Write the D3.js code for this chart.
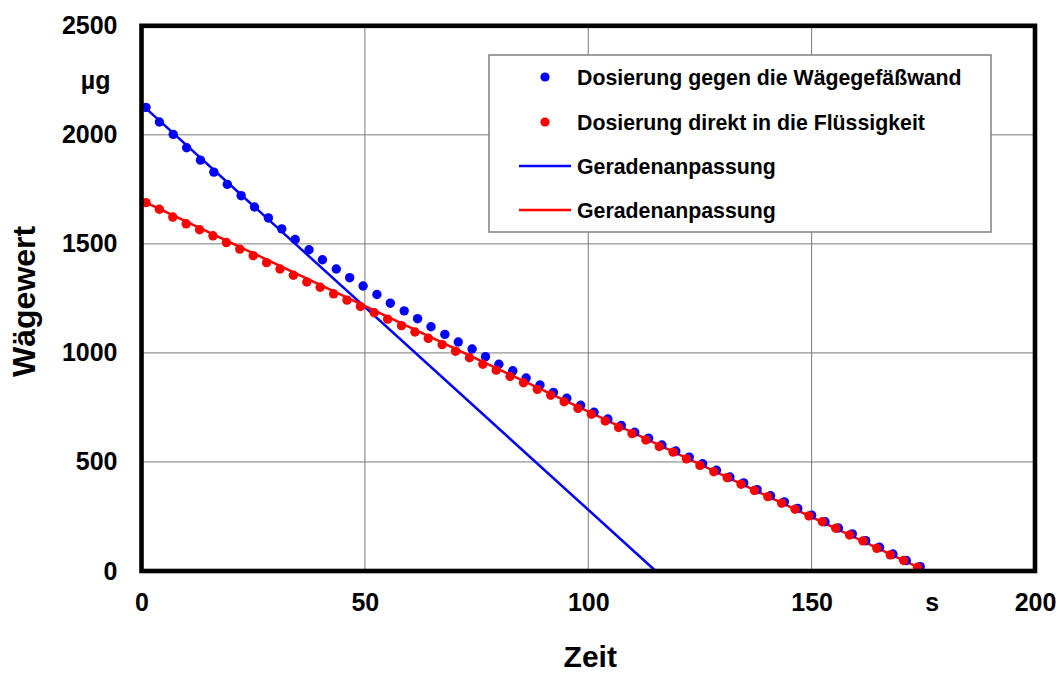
<!DOCTYPE html>
<html lang="de">
<head>
<meta charset="utf-8">
<script src="https://cdn.jsdelivr.net/npm/d3@7"></script>
<style>
  html, body { margin: 0; padding: 0; background: #fff; }
  svg { display: block; font-family: "Liberation Sans", Arial, sans-serif; font-weight: bold; }
</style>
</head>
<body>
<svg id="chart" width="1061" height="673"></svg>
<script>
// Zeitpunkte der Messungen (s)
const timeWall = [1.0, 4.0, 7.1, 10.1, 13.2, 16.2, 19.2, 22.3, 25.3, 28.4, 31.4, 34.4, 37.5, 40.5, 43.6,
  46.6, 49.6, 52.7, 55.7, 58.8, 61.8, 64.8, 67.9, 70.9, 74.0, 77.0, 80.0, 83.1, 86.1, 89.2, 92.2, 95.2,
  98.3, 101.3, 104.4, 107.4, 110.4, 113.5, 116.5, 119.6, 122.6, 125.6, 128.7, 131.7, 134.8, 137.8, 140.8,
  143.9, 146.9, 150.0, 153.0, 156.0, 159.1, 162.1, 165.2, 168.2, 171.2, 174.3];
const timeLiquid = [1.0, 4.0, 7.0, 10.0, 13.0, 16.0, 19.0, 22.0, 25.0, 28.0, 31.0, 34.0, 37.0, 40.0, 43.0,
  46.0, 49.0, 52.1, 55.1, 58.2, 61.2, 64.2, 67.3, 70.3, 73.4, 76.4, 79.4, 82.5, 85.5, 88.6, 91.6, 94.6,
  97.7, 100.7, 103.8, 106.8, 109.8, 112.9, 115.9, 119.0, 122.0, 125.0, 128.1, 131.1, 134.2, 137.2, 140.2,
  143.3, 146.3, 149.4, 152.4, 155.4, 158.5, 161.5, 164.6, 167.6, 170.6, 173.7];

// Wägewerte (µg)
const weightWall = [2126, 2059, 2002, 1941, 1884, 1829, 1773, 1721, 1669, 1619, 1569, 1520, 1473, 1427,
  1385, 1345, 1307, 1268, 1228, 1193, 1157, 1120, 1085, 1050, 1018, 983, 948, 918, 885, 853, 819, 792,
  760, 728, 697, 667, 636, 609, 578, 550, 522, 492, 462, 431, 404, 373, 345, 317, 287, 256, 226, 197,
  170, 139, 109, 78, 48, 20];
const weightLiquid = [1689, 1659, 1623, 1592, 1565, 1537, 1506, 1476, 1446, 1414, 1385, 1356, 1325, 1301,
  1271, 1242, 1213, 1184, 1155, 1125, 1096, 1067, 1038, 1008, 978, 948, 921, 892, 863, 833, 806, 776,
  746, 719, 688, 658, 630, 601, 571, 545, 514, 484, 455, 428, 398, 369, 341, 311, 283, 253, 226, 196,
  165, 138, 104, 74, 48, 17];

// Geradenanpassungen (Endpunkte)
const fitWallTime = [0, 115.1];
const fitWallWeight = [2140, 0];
const fitLiquidTime = [0, 174];
const fitLiquidWeight = [1699, 15];

// Achsen
const xTicks = [0, 50, 100, 150, 200];
const yTicks = [0, 500, 1000, 1500, 2000, 2500];
const xUnit = "s";
const yUnit = "µg";
const xTitle = "Zeit";
const yTitle = "Wägewert";

const legendLabels = [
  "Dosierung gegen die Wägegefäßwand",
  "Dosierung direkt in die Flüssigkeit",
  "Geradenanpassung",
  "Geradenanpassung"
];

const BLUE = "#0000ff", RED = "#ff0000";

const svg = d3.select("#chart");
const x = d3.scaleLinear().domain([0, 200]).range([141.5, 1035]);
const y = d3.scaleLinear().domain([0, 2500]).range([571, 25.8]);

// Gitterlinien
const grid = svg.append("g").attr("stroke", "#7a7a7a").attr("stroke-width", 1);
grid.selectAll("line.v").data(xTicks.slice(1, -1)).join("line")
  .attr("x1", d => x(d)).attr("x2", d => x(d))
  .attr("y1", y(0)).attr("y2", y(2500));
grid.selectAll("line.h").data(yTicks.slice(1, -1)).join("line")
  .attr("x1", x(0)).attr("x2", x(200))
  .attr("y1", d => y(d)).attr("y2", d => y(d));

// Achsenbeschriftungen
const yAxis = svg.append("g")
  .attr("transform", `translate(${x(0)},0)`)
  .call(d3.axisLeft(y).tickValues(yTicks).tickSize(0).tickPadding(24).tickFormat(d3.format("d")));
const xAxis = svg.append("g")
  .attr("transform", `translate(0,${y(0)})`)
  .call(d3.axisBottom(x).tickValues(xTicks).tickSize(0).tickPadding(22).tickFormat(d3.format("d")));
[yAxis, xAxis].forEach(a => {
  a.select(".domain").remove();
  a.selectAll("text").attr("font-size", 25).attr("font-weight", "bold")
    .attr("font-family", "'Liberation Sans', Arial, sans-serif").attr("fill", "#000");
});

svg.append("text").attr("x", x(0) - 31).attr("y", y(2250)).attr("dy", "0.35em")
  .attr("text-anchor", "end").attr("font-size", 25).text(yUnit);
svg.append("text").attr("x", x(177)).attr("y", y(0) + 22).attr("dy", "0.71em")
  .attr("text-anchor", "middle").attr("font-size", 25).text(xUnit);

svg.append("text").attr("x", (x(0) + x(200)) / 2 + 2).attr("y", 667)
  .attr("text-anchor", "middle").attr("font-size", 30).text(xTitle);
svg.append("text").attr("transform", `translate(35,${(y(0) + y(2500)) / 2 + 3}) rotate(-90)`)
  .attr("text-anchor", "middle").attr("font-size", 32).text(yTitle);

// Geraden
const line = d3.line().x(d => x(d[0])).y(d => y(d[1]));
svg.append("path").datum(d3.zip(fitWallTime, fitWallWeight))
  .attr("d", line).attr("fill", "none").attr("stroke", BLUE).attr("stroke-width", 2.5);
svg.append("path").datum(d3.zip(fitLiquidTime, fitLiquidWeight))
  .attr("d", line).attr("fill", "none").attr("stroke", RED).attr("stroke-width", 2.5);

// Messpunkte
svg.append("g").attr("fill", BLUE).selectAll("circle")
  .data(d3.zip(timeWall, weightWall)).join("circle")
  .attr("cx", d => x(d[0])).attr("cy", d => y(d[1])).attr("r", 4.7);
svg.append("g").attr("fill", RED).selectAll("circle")
  .data(d3.zip(timeLiquid, weightLiquid)).join("circle")
  .attr("cx", d => x(d[0])).attr("cy", d => y(d[1])).attr("r", 4.7);

// Rahmen
svg.append("rect").attr("x", x(0)).attr("y", y(2500))
  .attr("width", x(200) - x(0)).attr("height", y(0) - y(2500))
  .attr("fill", "none").attr("stroke", "#000").attr("stroke-width", 4.6);

// Legende
const lg = svg.append("g");
lg.append("rect").attr("x", 489).attr("y", 55).attr("width", 502).attr("height", 177)
  .attr("fill", "#fff").attr("stroke", "#808080").attr("stroke-width", 1.5);
const rowY = [77, 122, 166, 210];
lg.append("circle").attr("cx", 545).attr("cy", rowY[0]).attr("r", 4.6).attr("fill", BLUE);
lg.append("circle").attr("cx", 545).attr("cy", rowY[1]).attr("r", 4.6).attr("fill", RED);
lg.append("line").attr("x1", 519).attr("x2", 571).attr("y1", rowY[2]).attr("y2", rowY[2])
  .attr("stroke", BLUE).attr("stroke-width", 2.5);
lg.append("line").attr("x1", 519).attr("x2", 571).attr("y1", rowY[3]).attr("y2", rowY[3])
  .attr("stroke", RED).attr("stroke-width", 2.5);
lg.selectAll("text").data(legendLabels).join("text")
  .attr("x", 577).attr("y", (d, i) => rowY[i] + 7.5)
  .attr("font-size", 21.3).text(d => d);
</script>
</body>
</html>
